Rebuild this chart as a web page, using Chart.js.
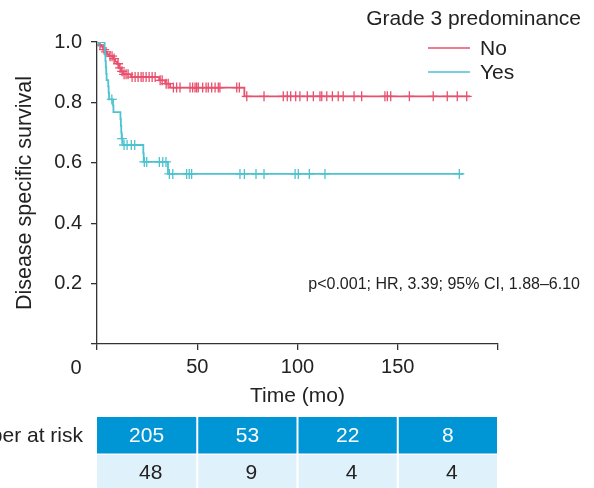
<!DOCTYPE html>
<html>
<head>
<meta charset="utf-8">
<script src="https://cdn.jsdelivr.net/npm/chart.js@4"></script>
<style>
  html, body { margin: 0; padding: 0; background: #fff; }
  #wrap { width: 594px; height: 488px; position: relative; }
</style>
</head>
<body>
<div id="wrap"><canvas id="chart"></canvas></div>
<script>
// Kaplan-Meier steps, "No" group (time in months, survival after that time)
const noTimes = [0, 1, 2, 3, 4, 5, 6, 8, 9, 10, 11, 12, 13, 17, 31, 34, 36.5, 73.5, 186];
const noSurv = [1, 0.99, 0.985, 0.975, 0.967, 0.96, 0.953, 0.945, 0.935, 0.928, 0.914, 0.903, 0.893, 0.884, 0.873, 0.862, 0.849, 0.82, 0.82];
// censor marks, "No" group
const noCensorT = [1.5, 3.5, 4.5, 6.5, 7.5, 8.5, 10.5, 11.5, 12.5, 13.5, 14.5, 15.5, 17.5, 19, 20.5, 22, 23, 24.5, 26, 27.5, 29, 31.5, 32.5, 34.5, 35.5,
  38.1, 39.7, 41.4, 46.4, 47.7, 48.9, 49.7, 50.5, 52.7, 54.4, 55.5, 57.2, 58.9, 60.5, 61.3, 69.7, 71.0,
  74.7, 83.3, 92.9, 94.9, 96.6, 99.1, 101.2, 104.9, 107.9, 111.2, 112.1, 114.6, 117.4, 120.3, 122.8, 128.2, 132, 143.6, 144.8, 146.5, 155.8, 167.7, 174.7, 179.7, 184.4];
const noCensorS = [0.99, 0.975, 0.967, 0.953, 0.953, 0.945, 0.928, 0.914, 0.903, 0.893, 0.893, 0.893, 0.884, 0.884, 0.884, 0.884, 0.884, 0.884, 0.884, 0.884, 0.884, 0.873, 0.873, 0.862, 0.862,
  0.849, 0.849, 0.849, 0.849, 0.849, 0.849, 0.849, 0.849, 0.849, 0.849, 0.849, 0.849, 0.849, 0.849, 0.849, 0.849, 0.849,
  0.82, 0.82, 0.82, 0.82, 0.82, 0.82, 0.82, 0.82, 0.82, 0.82, 0.82, 0.82, 0.82, 0.82, 0.82, 0.82, 0.82, 0.82, 0.82, 0.82, 0.82, 0.82, 0.82, 0.82, 0.82];

// "Yes" group
const yesTimes = [0, 3.8, 4.0, 4.2, 4.4, 4.6, 4.8, 5.6, 5.8, 6.0, 8.0, 8.2, 11.7, 11.9, 12.1, 12.3, 12.8, 23.1, 23.3, 35.4, 182.7];
const yesSurv = [1, 0.979, 0.958, 0.937, 0.916, 0.895, 0.874, 0.853, 0.832, 0.81, 0.789, 0.768, 0.745, 0.722, 0.70, 0.68, 0.659, 0.631, 0.603, 0.563, 0.563];
const yesCensorT = [1, 7.4, 12.5, 13.5, 15, 17.1, 18.8, 23.6, 24.8, 31.1, 32.8, 34.4,
  36.1, 37.8, 44.7, 46, 47.2, 71.3, 73.5, 79.3, 83.3, 98.8, 100.4, 105.9, 113.7, 180.7];
const yesCensorS = [1, 0.81, 0.68, 0.659, 0.659, 0.659, 0.659, 0.603, 0.603, 0.603, 0.603, 0.603,
  0.563, 0.563, 0.563, 0.563, 0.563, 0.563, 0.563, 0.563, 0.563, 0.563, 0.563, 0.563, 0.563, 0.563];

// number at risk table
const riskTimes = [0, 50, 100, 150, 200];
const riskNo = [205, 53, 22, 8];
const riskYes = [48, 9, 4, 4];

const groupLabels = ["No", "Yes"];
const legendTitle = "Grade 3 predominance";
const statText = "p<0.001; HR, 3.39; 95% CI, 1.88\u20136.10";

const pink = "#e8506d";
const teal = "#4cc3cf";
const ink = "#222";
const FONT = "'Liberation Sans', Arial, sans-serif";

function pts(xs, ys) {
  return xs.map((x, i) => ({ x: x, y: ys[i] }));
}

const extras = {
  id: "extras",
  afterDraw(chart) {
    const ctx = chart.ctx;
    const xs = chart.scales.x;
    const ys = chart.scales.y;
    ctx.save();

    // shared origin label
    ctx.fillStyle = ink;
    ctx.font = "20px " + FONT;
    ctx.textAlign = "center";
    ctx.textBaseline = "middle";
    ctx.fillText("0", xs.left - 21, ys.bottom + 24);

    // legend
    ctx.font = "21px " + FONT;
    ctx.textAlign = "right";
    ctx.fillText(legendTitle, 581, 19);
    const colors = [pink, teal];
    groupLabels.forEach((lab, i) => {
      const y = 48 + i * 24;
      ctx.strokeStyle = colors[i];
      ctx.lineWidth = 1.6;
      ctx.beginPath();
      ctx.moveTo(428, y);
      ctx.lineTo(470, y);
      ctx.stroke();
      ctx.textAlign = "left";
      ctx.fillText(lab, 480, y + 1);
    });

    // statistics note
    ctx.font = "16px " + FONT;
    ctx.textAlign = "right";
    ctx.fillText(statText, 580, 285);

    // number at risk table
    const rowTop = [417, 455];
    const rowH = [36.5, 40];
    const fills = ["#0096d6", "#dff1fa"];
    const txt = ["#fff", ink];
    const rows = [riskNo, riskYes];
    ctx.font = "21px " + FONT;
    rows.forEach((vals, r) => {
      vals.forEach((v, c) => {
        const x0 = xs.getPixelForValue(riskTimes[c]) + (c === 0 ? 0 : 1);
        const x1 = xs.getPixelForValue(riskTimes[c + 1]) - 1;
        ctx.fillStyle = fills[r];
        ctx.fillRect(x0, rowTop[r], x1 - x0, rowH[r]);
        ctx.fillStyle = txt[r];
        ctx.textAlign = "center";
        ctx.fillText(String(v), (x0 + x1) / 2 + (r === 1 ? 4 : 0), r === 0 ? 436 : 473);
      });
    });
    ctx.fillStyle = ink;
    ctx.textAlign = "right";
    ctx.fillText("Number at risk", xs.left - 14, 436);
    ctx.restore();
  }
};

const cross = {
  type: "scatter",
  showLine: false,
  pointStyle: "cross",
  pointRadius: 5,
  pointBorderWidth: 1.3,
  pointHoverRadius: 5
};

new Chart(document.getElementById("chart"), {
  type: "line",
  data: {
    datasets: [
      Object.assign({ label: "yes-censor", data: pts(yesCensorT, yesCensorS), borderColor: teal, backgroundColor: teal }, cross),
      { label: groupLabels[1], data: pts(yesTimes, yesSurv), borderColor: teal, borderWidth: 1.8, stepped: "before", pointRadius: 0, fill: false },
      Object.assign({ label: "no-censor", data: pts(noCensorT, noCensorS), borderColor: pink, backgroundColor: pink }, cross),
      { label: groupLabels[0], data: pts(noTimes, noSurv), borderColor: pink, borderWidth: 1.8, stepped: "before", pointRadius: 0, fill: false }
    ]
  },
  options: {
    responsive: true,
    maintainAspectRatio: false,
    animation: false,
    layout: { padding: { top: 42, right: 96, bottom: 0, left: 0 } },
    plugins: { legend: { display: false }, tooltip: { enabled: false } },
    scales: {
      x: {
        type: "linear",
        min: 0,
        max: 200,
        afterFit(s) { s.height = 144; },
        border: { display: true, color: "#333", width: 1.3 },
        grid: { drawOnChartArea: false, drawTicks: true, tickLength: 6, color: "#333", lineWidth: 1.3 },
        ticks: {
          stepSize: 50,
          padding: 5,
          color: ink,
          font: { family: FONT, size: 20 },
          maxRotation: 0,
          callback: v => (v === 0 || v === 200) ? "" : v
        },
        title: {
          display: true,
          text: "Time (mo)",
          color: ink,
          font: { family: FONT, size: 21 },
          padding: { top: 0, bottom: 79 }
        }
      },
      y: {
        min: 0,
        max: 1,
        afterFit(s) { s.width = 97; },
        border: { display: true, color: "#333", width: 1.3 },
        grid: { drawOnChartArea: false, drawTicks: true, tickLength: 6, color: "#333", lineWidth: 1.3 },
        ticks: {
          stepSize: 0.2,
          padding: 9,
          color: ink,
          font: { family: FONT, size: 20 },
          callback: v => v === 0 ? "" : v.toFixed(1)
        },
        title: {
          display: true,
          text: "Disease specific survival",
          color: ink,
          font: { family: FONT, size: 21.5 },
          padding: { top: 12, bottom: 0 }
        }
      }
    }
  },
  plugins: [extras]
});
</script>
</body>
</html>
